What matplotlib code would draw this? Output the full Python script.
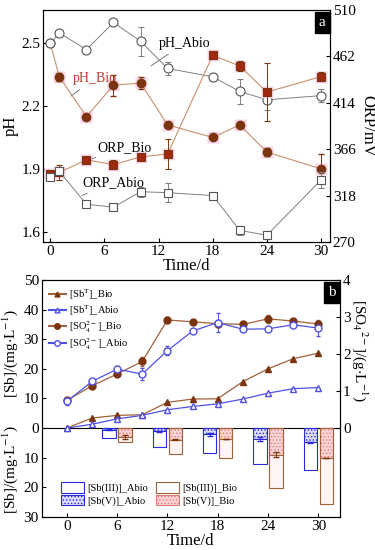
import numpy as np
import matplotlib
matplotlib.use("Agg")
import matplotlib.pyplot as plt
from matplotlib.patches import Patch
from matplotlib.lines import Line2D

plt.rcParams['font.family'] = ['Liberation Serif', 'DejaVu Serif']
plt.rcParams['mathtext.fontset'] = 'stix'
plt.rcParams['hatch.linewidth'] = 0.6

# panel a data
days_a = [0, 1, 4, 7, 10, 13, 18, 21, 24, 30]
ph_abio = [2.50, 2.55, 2.47, 2.60, 2.51, 2.38, 2.34, 2.27, 2.23, 2.25]
ph_abio_err = [0, 0.01, 0, 0, 0.07, 0.03, 0.02, 0.06, 0.05, 0.03]
ph_bio = [2.50, 2.34, 2.15, 2.30, 2.31, 2.11, 2.05, 2.11, 1.98, 1.90]
ph_bio_err = [0, 0.02, 0, 0.05, 0.03, 0, 0, 0.01, 0.02, 0.07]
orp_bio = [340, 342, 355, 350, 358, 361, 463, 452, 425, 441]
orp_bio_err = [3, 8, 3, 5, 2, 15, 3, 5, 30, 5]
orp_abio = [337, 343, 309, 306, 322, 321, 318, 282, 277, 334]
orp_abio_err = [3, 3, 2, 2, 5, 10, 1, 5, 2, 8]

# panel b data
days_b = [0, 3, 6, 9, 12, 15, 18, 21, 24, 27, 30]
sbt_bio = [0, 3.4, 4.3, 4.5, 8.7, 9.8, 9.9, 15.7, 20.0, 23.4, 25.3]
sbt_abio = [0, 1.3, 3.1, 4.3, 6.2, 7.3, 8.2, 9.8, 11.8, 13.3, 13.7]
so4_bio = [0.75, 1.14, 1.46, 1.80, 2.92, 2.87, 2.82, 2.80, 2.95, 2.89, 2.81]
so4_bio_err = [0.05, 0.04, 0.05, 0.12, 0.08, 0.03, 0.1, 0.08, 0.1, 0.05, 0.1]
so4_abio = [0.72, 1.26, 1.59, 1.46, 2.09, 2.62, 2.85, 2.67, 2.68, 2.79, 2.70]
so4_abio_err = [0.1, 0.06, 0.08, 0.15, 0.12, 0.05, 0.25, 0.03, 0.05, 0.05, 0.2]

days_bar = [6, 12, 18, 24, 30]
sb5_abio = [0.5, 1.1, 2.0, 3.7, 4.8]
sb5_abio_err = [0.1, 0.2, 0.5, 0.6, 0.2]
sb3_abio = [2.9, 5.3, 6.4, 8.3, 9.2]
sb5_bio = [3.0, 3.9, 3.7, 9.0, 10.1]
sb5_bio_err = [0.8, 0.1, 0.1, 0.8, 0.1]
sb3_bio = [1.6, 4.8, 6.4, 11.2, 15.4]

brown_line = '#c89070'
brown_mk = '#7a3510'
red_sq = '#a02a10'
gray = '#808080'
blue = '#5050e8'
blue_dk = '#2a2ad8'
brown_b = '#a0623a'
pink = '#f9d6ea'

fig = plt.figure(figsize=(3.75, 5.5), dpi=100)

# ---------- panel a ----------
ax = fig.add_axes([0.115, 0.56, 0.765, 0.422])
ax2 = ax.twinx()

# light pink halo behind bio markers
ax.plot(days_a[1:], ph_bio[1:], 's', ms=8, color=pink, mec='none', zorder=1)
ax2.plot(days_a, orp_bio, 's', ms=8, color=pink, mec='none', zorder=1)

ax.errorbar(days_a, ph_bio, yerr=ph_bio_err, color=brown_line, lw=0.8,
            marker='o', ms=6, mfc=brown_mk, mec=brown_mk,
            ecolor=brown_mk, elinewidth=0.7, capsize=2, zorder=3)
ax.errorbar(days_a, ph_abio, yerr=ph_abio_err, color=gray, lw=0.7,
            marker='o', ms=6.5, mfc='white', mec='#555555', mew=0.8,
            ecolor=gray, elinewidth=0.7, capsize=2, zorder=4)
ax2.errorbar(days_a, orp_bio, yerr=orp_bio_err, color=brown_line, lw=0.8,
             marker='s', ms=5.5, mfc=red_sq, mec=brown_mk, mew=0.8,
             ecolor=brown_mk, elinewidth=0.7, capsize=2, zorder=3)
ax2.errorbar(days_a, orp_abio, yerr=orp_abio_err, color=gray, lw=0.7,
             marker='s', ms=5.5, mfc='white', mec='#555555', mew=0.8,
             ecolor=gray, elinewidth=0.7, capsize=2, zorder=4)

ax.set_xlim(-0.8, 31)
ax.set_ylim(1.55, 2.66)
ax2.set_ylim(270, 510)
ax.set_xticks([0, 6, 12, 18, 24, 30])
ax.set_yticks([1.6, 1.9, 2.2, 2.5])
ax.set_yticklabels(['1.6', '1.9', '2.2', '2.5'])
ax2.set_yticks([270, 318, 366, 414, 462, 510])
ax.tick_params(direction='in', labelsize=11, length=3, pad=2)
ax2.tick_params(direction='in', labelsize=11, length=3, pad=2)
ax.set_xlabel('Time/d', fontsize=12, labelpad=0)
ax.set_ylabel('pH', fontsize=12, labelpad=2)
ax2.set_ylabel('ORP/mV', fontsize=12, rotation=270, labelpad=14)

lead = dict(arrowstyle='-', color='#666666', lw=0.6)
ax.annotate('pH_Abio', xy=(10.9, 2.385), xytext=(12.0, 2.50), fontsize=10,
            va='center', arrowprops=lead)
ax.annotate('pH_Bio', xy=(2.0, 2.24), xytext=(2.5, 2.33), fontsize=10,
            va='center', color='#c0392b', arrowprops=lead)
ax2.annotate('ORP_Bio', xy=(4.3, 355), xytext=(5.2, 368), fontsize=10,
             va='center', arrowprops=lead)
ax2.annotate('ORP_Abio', xy=(3.2, 317), xytext=(3.5, 331), fontsize=10,
             va='center', arrowprops=lead)
ax.text(0.985, 0.975, 'a', transform=ax.transAxes, ha='right', va='top',
        color='white', fontsize=11,
        bbox=dict(facecolor='black', edgecolor='black', boxstyle='square,pad=0.25'))

# ---------- panel b ----------
bx = fig.add_axes([0.111, 0.06, 0.796, 0.431])
bx2 = bx.twinx()
bw = 1.6
off = 0.95
xa = np.array(days_bar) - off
xb = np.array(days_bar) + off

bx.bar(xa, -np.array(sb5_abio), width=bw, color='#dcdcf8', edgecolor=blue_dk,
       hatch='.....', lw=0.8, zorder=2)
bx.bar(xa, -np.array(sb3_abio), bottom=-np.array(sb5_abio), width=bw,
       color='white', edgecolor=blue_dk, lw=0.8, zorder=2)
bx.errorbar(xa, -np.array(sb5_abio), yerr=sb5_abio_err, fmt='none',
            ecolor=blue_dk, elinewidth=0.7, capsize=2, zorder=3)
bx.bar(xb, -np.array(sb5_bio), width=bw, color='#fcd6d6', edgecolor='#e07a7a',
       hatch='.....', lw=0.8, zorder=2)
bx.bar(xb, -np.array(sb5_bio), width=bw, color='none', edgecolor=brown_b,
       lw=0.8, zorder=2)
bx.bar(xb, -np.array(sb3_bio), bottom=-np.array(sb5_bio), width=bw,
       color='#fff4f4', edgecolor=brown_b, lw=0.8, zorder=2)
bx.errorbar(xb, -np.array(sb5_bio), yerr=sb5_bio_err, fmt='none',
            ecolor=brown_mk, elinewidth=0.7, capsize=2, zorder=3)

bx.axhline(0, color='black', lw=0.8, zorder=1)

bx.plot(days_b, sbt_bio, '-', color=brown_b, lw=0.9, marker='^', ms=4,
        mfc=brown_mk, mec=brown_mk, zorder=4)
bx.plot(days_b, sbt_abio, '-', color=blue, lw=0.9, marker='^', ms=4,
        mfc='white', mec=blue, zorder=4)
bx2.errorbar(days_b, so4_bio, yerr=so4_bio_err, color=brown_b, lw=0.9,
             marker='o', ms=5, mfc=brown_mk, mec=brown_mk,
             ecolor=brown_b, elinewidth=0.7, capsize=1.5, zorder=4)
bx2.errorbar(days_b, so4_abio, yerr=so4_abio_err, color=blue, lw=0.9,
             marker='o', ms=5, mfc='white', mec=blue,
             ecolor=blue, elinewidth=0.7, capsize=1.5, zorder=4)

bx.set_xlim(-3, 32.6)
bx.set_ylim(-30, 50)
bx2.set_ylim(-2.4, 4)
bx.set_xticks([0, 6, 12, 18, 24, 30])
sb_ticks = [-30, -20, -10, 0, 10, 20, 30, 40, 50]
bx.set_yticks(sb_ticks)
bx.set_yticklabels([str(abs(t)) for t in sb_ticks])
bx2.set_yticks([0, 1, 2, 3, 4])
bx.tick_params(direction='in', labelsize=11, length=3, pad=2)
bx2.tick_params(direction='in', labelsize=11, length=3, pad=2)
bx.set_xlabel('Time/d', fontsize=12, labelpad=0)
bx.text(-0.105, 25, r'[Sb]/(mg$\cdot$L$^{-1}$)', transform=bx.get_yaxis_transform(),
        rotation=90, ha='center', va='center', fontsize=11)
bx.text(-0.105, -14, r'[Sb]/(mg$\cdot$L$^{-1}$)', transform=bx.get_yaxis_transform(),
        rotation=90, ha='center', va='center', fontsize=11)
bx2.set_ylabel(r'[SO$_4$$^{2-}$]/(g$\cdot$L$^{-1}$)', fontsize=11, rotation=270,
               labelpad=14)
bx2.yaxis.set_label_coords(1.1, 0.7)

top_h = [Line2D([], [], color=brown_b, marker='^', ms=3.5, mfc=brown_mk, mec=brown_mk),
         Line2D([], [], color=blue, marker='^', ms=3.5, mfc='white', mec=blue),
         Line2D([], [], color=brown_b, marker='o', ms=4, mfc=brown_mk, mec=brown_mk),
         Line2D([], [], color=blue, marker='o', ms=4, mfc='white', mec=blue)]
top_l = [r'[Sb$^{\rm T}$]_Bio', r'[Sb$^{\rm T}$]_Abio',
         r'[SO$_4^{2-}$]_Bio', r'[SO$_4^{2-}$]_Abio']
leg1 = bx.legend(top_h, top_l, loc='upper left', frameon=False, fontsize=7.5,
                 handlelength=1.6, handletextpad=0.3, labelspacing=0.1,
                 borderaxespad=0.3)
bx.add_artist(leg1)

bot_h = [Patch(facecolor='white', edgecolor=blue_dk, lw=0.8),
         Patch(facecolor='#dcdcf8', edgecolor=blue_dk, hatch='.....', lw=0.8),
         Patch(facecolor='white', edgecolor=brown_b, lw=0.8),
         Patch(facecolor='#fcd6d6', edgecolor='#e07a7a', hatch='.....', lw=0.8)]
bot_l = ['[Sb(III)]_Abio', '[Sb(V)]_Abio', '[Sb(III)]_Bio', '[Sb(V)]_Bio']
bx.legend(bot_h, bot_l, loc='lower left', ncol=2, frameon=False, fontsize=7.5,
          handlelength=2.2, handleheight=1.2, handletextpad=0.3,
          labelspacing=0.15, columnspacing=0.8, borderaxespad=0,
          bbox_to_anchor=(0.05, 0.03))

bx.text(0.985, 0.975, 'b', transform=bx.transAxes, ha='right', va='top',
        color='white', fontsize=11,
        bbox=dict(facecolor='black', edgecolor='black', boxstyle='square,pad=0.25'))

fig.savefig('out.png', dpi=100)
